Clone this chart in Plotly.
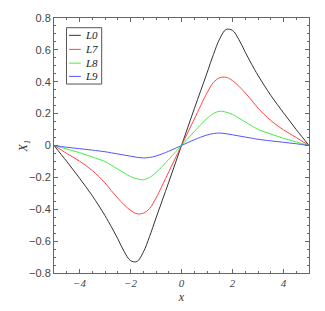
import plotly.graph_objects as go

x_pos = [0, 0.5, 1, 1.25, 1.5, 1.75, 2, 2.25, 2.5, 2.75, 3, 3.5, 4, 4.5, 5]
L0_pos = [0, 0.23, 0.455, 0.57, 0.67, 0.728, 0.722, 0.665, 0.585, 0.51, 0.44, 0.315, 0.205, 0.10, 0]
L7_pos = [0, 0.165, 0.33, 0.395, 0.425, 0.428, 0.407, 0.372, 0.33, 0.284, 0.235, 0.157, 0.098, 0.05, 0]
L8_pos = [0, 0.087, 0.17, 0.20, 0.215, 0.209, 0.195, 0.172, 0.148, 0.124, 0.101, 0.072, 0.045, 0.022, 0]
L9_pos = [0, 0.036, 0.066, 0.075, 0.078, 0.074, 0.067, 0.060, 0.053, 0.046, 0.039, 0.029, 0.020, 0.011, 0]

x_neg = [-5, -4.5, -4, -3.5, -3, -2.75, -2.5, -2.25, -2, -1.75, -1.5, -1.25, -1, -0.5]
L0_neg = [0, -0.10, -0.205, -0.315, -0.44, -0.51, -0.585, -0.665, -0.722, -0.728, -0.67, -0.57, -0.455, -0.23]
L7_neg = [0, -0.05, -0.098, -0.157, -0.235, -0.284, -0.33, -0.372, -0.407, -0.428, -0.425, -0.395, -0.33, -0.165]
L8_neg = [0, -0.022, -0.045, -0.072, -0.101, -0.124, -0.148, -0.172, -0.195, -0.209, -0.215, -0.20, -0.17, -0.087]
L9_neg = [0, -0.011, -0.020, -0.029, -0.039, -0.046, -0.053, -0.060, -0.067, -0.074, -0.078, -0.075, -0.066, -0.036]

names = ["L0", "L7", "L8", "L9"]
colors = ["#333333", "#ff4444", "#44ee44", "#5555ff"]
series = [(L0_neg, L0_pos), (L7_neg, L7_pos), (L8_neg, L8_pos), (L9_neg, L9_pos)]

fig = go.Figure()
xs = x_neg + x_pos
for name, col, (neg, pos) in zip(names, colors, series):
    fig.add_trace(go.Scatter(
        x=xs, y=neg + pos, mode="lines", name=name, showlegend=False,
        line=dict(color=col, width=1, shape="spline", smoothing=1.0),
    ))

serif = "Liberation Serif, DejaVu Serif, serif"
sans = "Liberation Sans, Arial, sans-serif"
axcol = "#666666"

# custom compact legend (paper coords of plot area)
shapes = [dict(type="rect", xref="paper", yref="paper", x0=0.049, x1=0.187, y0=0.741, y1=0.962,
               line=dict(color="#555555", width=1), fillcolor="white", layer="above")]
annotations = []
rows = [0.932, 0.877, 0.823, 0.771]
for name, col, yy in zip(names, colors, rows):
    shapes.append(dict(type="line", xref="paper", yref="paper", x0=0.059, x1=0.105, y0=yy, y1=yy,
                       line=dict(color=col, width=1), layer="above"))
    annotations.append(dict(xref="paper", yref="paper", x=0.115, y=yy, xanchor="left", yanchor="middle",
                            text=name, showarrow=False,
                            font=dict(family=serif, size=11, style="italic", color="#222222")))

# y-axis title
annotations.append(dict(xref="paper", yref="paper", x=-0.118, y=0.5, xanchor="center", yanchor="middle",
                        text="X<sub>1</sub>", textangle=-90, showarrow=False,
                        font=dict(family=serif, size=12, style="italic", color="#333333")))

fig.update_layout(
    width=325, height=311,
    margin=dict(l=54, r=16, t=18, b=38),
    paper_bgcolor="white", plot_bgcolor="white",
    showlegend=False,
    shapes=shapes, annotations=annotations,
    xaxis=dict(
        range=[-5, 5], tickvals=[-4, -2, 0, 2, 4],
        ticktext=["\u22124", "\u22122", "0", "2", "4"],
        ticks="inside", ticklen=4, tickcolor=axcol,
        showline=True, linecolor=axcol, linewidth=1, mirror="allticks",
        showgrid=False, zeroline=False, automargin=False,
        tickfont=dict(family=serif, size=11, style="italic", color="#444444"),
        minor=dict(dtick=0.5, ticks="inside", ticklen=2, tickcolor=axcol, showgrid=False),
        title=dict(text="x", font=dict(family=serif, size=12, style="italic", color="#333333"), standoff=4),
    ),
    yaxis=dict(
        range=[-0.8, 0.8],
        tickvals=[-0.8, -0.6, -0.4, -0.2, 0, 0.2, 0.4, 0.6, 0.8],
        ticktext=["\u22120.8", "\u22120.6", "\u22120.4", "\u22120.2", "0", "0.2", "0.4", "0.6", "0.8"],
        ticks="inside", ticklen=4, tickcolor=axcol,
        showline=True, linecolor=axcol, linewidth=1, mirror="allticks",
        showgrid=False, zeroline=False, automargin=False,
        tickfont=dict(family=sans, size=11, color="#444444"),
        minor=dict(dtick=0.05, ticks="inside", ticklen=2, tickcolor=axcol, showgrid=False),
    ),
)

fig.write_html("out.html", config={"displayModeBar": False},
               post_script="document.body.style.margin='0';document.body.style.overflow='hidden';")
